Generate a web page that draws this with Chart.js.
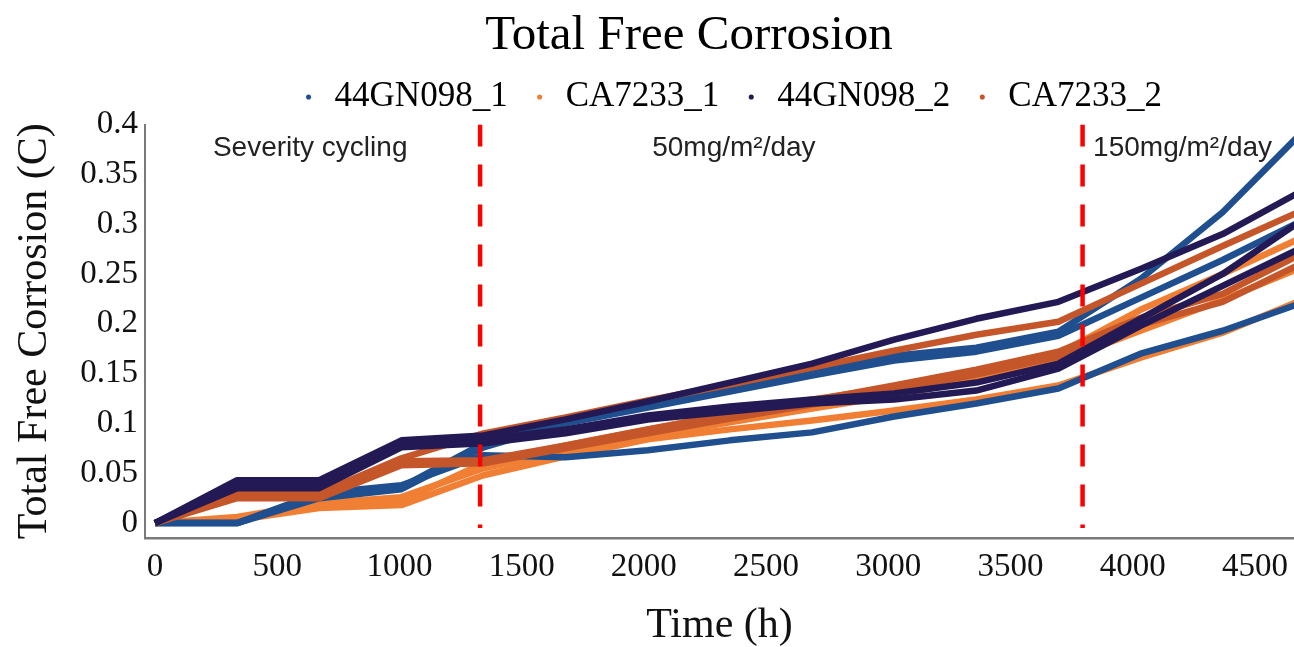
<!DOCTYPE html>
<html>
<head>
<meta charset="utf-8">
<script src="https://cdn.jsdelivr.net/npm/chart.js@4.4.1/dist/chart.umd.min.js"></script>
<style>
html,body{margin:0;padding:0;background:#fff;overflow:hidden}
#c{display:block}
</style>
</head>
<body>
<canvas id="c" width="1294" height="647"></canvas>
<script>
// ---- data ----
const hours = [0, 336, 672, 1008, 1344, 1680, 2016, 2352, 2688, 3024, 3360, 3696, 4032, 4368, 4704];
const xTickValues = [0, 500, 1000, 1500, 2000, 2500, 3000, 3500, 4000, 4500];
const yTickValues = [0, 0.05, 0.1, 0.15, 0.2, 0.25, 0.3, 0.35, 0.4];
const seriesNames = ['44GN098_1', 'CA7233_1', '44GN098_2', 'CA7233_2'];

// 44GN098_1 specimens
const gn098_1_a = [0, 0, 0.028, 0.036, 0.080, 0.105, 0.120, 0.137, 0.154, 0.168, 0.176, 0.192, 0.245, 0.312, 0.395];
const gn098_1_b = [0, 0, 0.025, 0.034, 0.076, 0.100, 0.116, 0.132, 0.148, 0.163, 0.172, 0.188, 0.226, 0.264, 0.305];
const gn098_1_c = [0, 0, 0.030, 0.038, 0.068, 0.066, 0.073, 0.083, 0.091, 0.107, 0.120, 0.135, 0.170, 0.193, 0.222];
// CA7233_1 specimens
const ca7233_1_a = [0, 0.004, 0.017, 0.022, 0.060, 0.078, 0.094, 0.110, 0.124, 0.136, 0.152, 0.170, 0.214, 0.250, 0.288];
const ca7233_1_b = [0, 0.006, 0.020, 0.026, 0.055, 0.072, 0.087, 0.101, 0.115, 0.128, 0.144, 0.162, 0.193, 0.224, 0.258];
const ca7233_1_c = [0, 0.003, 0.015, 0.018, 0.048, 0.067, 0.084, 0.094, 0.103, 0.113, 0.124, 0.138, 0.166, 0.191, 0.225];
// 44GN098_2 specimens
const gn098_2_a = [0, 0.043, 0.043, 0.083, 0.088, 0.104, 0.122, 0.141, 0.160, 0.184, 0.205, 0.222, 0.255, 0.290, 0.335];
const gn098_2_b = [0, 0.040, 0.040, 0.080, 0.084, 0.094, 0.108, 0.117, 0.124, 0.130, 0.141, 0.160, 0.205, 0.250, 0.306];
const gn098_2_c = [0, 0.035, 0.035, 0.076, 0.080, 0.090, 0.104, 0.112, 0.120, 0.124, 0.133, 0.155, 0.198, 0.238, 0.278];
// CA7233_2 specimens
const ca7233_2_a = [0, 0.030, 0.030, 0.065, 0.090, 0.106, 0.123, 0.139, 0.156, 0.173, 0.189, 0.202, 0.240, 0.278, 0.315];
const ca7233_2_b = [0, 0.028, 0.028, 0.062, 0.063, 0.078, 0.094, 0.109, 0.123, 0.138, 0.154, 0.172, 0.206, 0.230, 0.272];
const ca7233_2_c = [0, 0.025, 0.025, 0.058, 0.060, 0.075, 0.090, 0.105, 0.119, 0.134, 0.149, 0.167, 0.199, 0.222, 0.262];

const phaseBoundaries = [1330, 3795];
const phaseLabels = ['Severity cycling', '50mg/m\u00B2/day', '150mg/m\u00B2/day'];

// ---- styling ----
const seriesColors = ['#1f4f8f', '#f07f34', '#231a55', '#c5562a'];
const drawOrder = [3, 4, 1, 2];
const groups = [
  [gn098_1_a, gn098_1_b, gn098_1_c],
  [ca7233_1_a, ca7233_1_b, ca7233_1_c],
  [gn098_2_a, gn098_2_b, gn098_2_c],
  [ca7233_2_a, ca7233_2_b, ca7233_2_c]
];

const datasets = [];
groups.forEach((runs, s) => {
  runs.forEach((vals, r) => {
    datasets.push({
      label: seriesNames[s],
      data: vals.map((v, i) => ({x: hours[i], y: v})),
      borderColor: seriesColors[s],
      backgroundColor: seriesColors[s],
      borderWidth: 6.5,
      borderJoinStyle: 'round',
      pointRadius: 0,
      tension: 0,
      order: drawOrder[s],
      inLegend: r === 0
    });
  });
});
phaseBoundaries.forEach(h => {
  datasets.push({
    label: 'boundary',
    data: [{x: h, y: 0.4}, {x: h, y: -0.005}],
    borderColor: '#ff0000',
    backgroundColor: '#ff0000',
    borderWidth: 4.5,
    borderDash: [22, 18],
    pointRadius: 0,
    order: 0,
    inLegend: false
  });
});

const serif = '"Liberation Serif", "Times New Roman", serif';

const shiftPlugin = {
  id: 'shiftHeader',
  afterLayout(chart) {
    chart.titleBlock.left += 42; chart.titleBlock.right += 42;
    chart.legend.left += 84; chart.legend.right += 84;
  }
};

const phasePlugin = {
  id: 'phaseText',
  afterDatasetsDraw(chart, args, opts) {
    const {ctx, scales: {x, y}} = chart;
    ctx.save();
    ctx.font = '28px "Liberation Sans", Arial, sans-serif';
    ctx.fillStyle = '#222';
    ctx.textAlign = 'left';
    ctx.textBaseline = 'middle';
    phaseLabels.forEach((t, i) => {
      ctx.fillText(t, x.getPixelForValue(opts.at[i]), y.getPixelForValue(opts.y));
    });
    ctx.restore();
  }
};

new Chart(document.getElementById('c'), {
  type: 'line',
  data: {datasets},
  plugins: [shiftPlugin, phasePlugin],
  options: {
    responsive: false,
    animation: false,
    devicePixelRatio: 1,
    layout: {padding: 0},
    plugins: {
      title: {
        display: true,
        text: 'Total Free Corrosion',
        color: '#000',
        font: {family: serif, size: 49, weight: 'normal', lineHeight: 1},
        padding: {top: 12, bottom: -5}
      },
      legend: {
        display: true,
        position: 'top',
        labels: {
          color: '#000',
          font: {family: serif, size: 35},
          usePointStyle: true,
          pointStyle: 'circle',
          boxWidth: 17,
          boxHeight: 3.6,
          padding: 23.5,
          generateLabels: chart => Chart.defaults.plugins.legend.labels.generateLabels(chart)
            .map(l => Object.assign(l, {lineWidth: 0})),
          filter: (item, data) => data.datasets[item.datasetIndex].inLegend,
          sort: (a, b) => a.datasetIndex - b.datasetIndex
        }
      },
      tooltip: {enabled: false},
      phaseText: {at: [237, 2034, 3838], y: 0.376}
    },
    scales: {
      x: {
        type: 'linear',
        min: -41,
        max: 4660,
        afterBuildTicks: s => { s.ticks = xTickValues.map(v => ({value: v})); },
        afterFit: s => { s.height = 109; s.paddingRight = 0; },
        grid: {display: false, drawTicks: false},
        border: {display: true, color: '#7a7a7a', width: 2.5},
        ticks: {color: '#111', font: {family: serif, size: 33}, padding: 10, maxRotation: 0, autoSkip: false,
                callback: v => String(v)},
        title: {display: true, text: 'Time (h)', color: '#111', font: {family: serif, size: 42, lineHeight: 1}, padding: {top: 0, bottom: 0}}
      },
      y: {
        type: 'linear',
        min: -0.015,
        max: 0.4,
        afterBuildTicks: s => { s.ticks = yTickValues.map(v => ({value: v})); },
        afterFit: s => { s.width = 145; },
        grid: {display: false, drawTicks: false},
        border: {display: true, color: '#7a7a7a', width: 2},
        ticks: {color: '#111', font: {family: serif, size: 33}, padding: 7, autoSkip: false,
                callback: v => String(v)},
        title: {display: true, text: 'Total Free Corrosion (C)', color: '#111', font: {family: serif, size: 42, lineHeight: 1}, padding: {top: 14, bottom: 0}}
      }
    }
  }
});
</script>
</body>
</html>
